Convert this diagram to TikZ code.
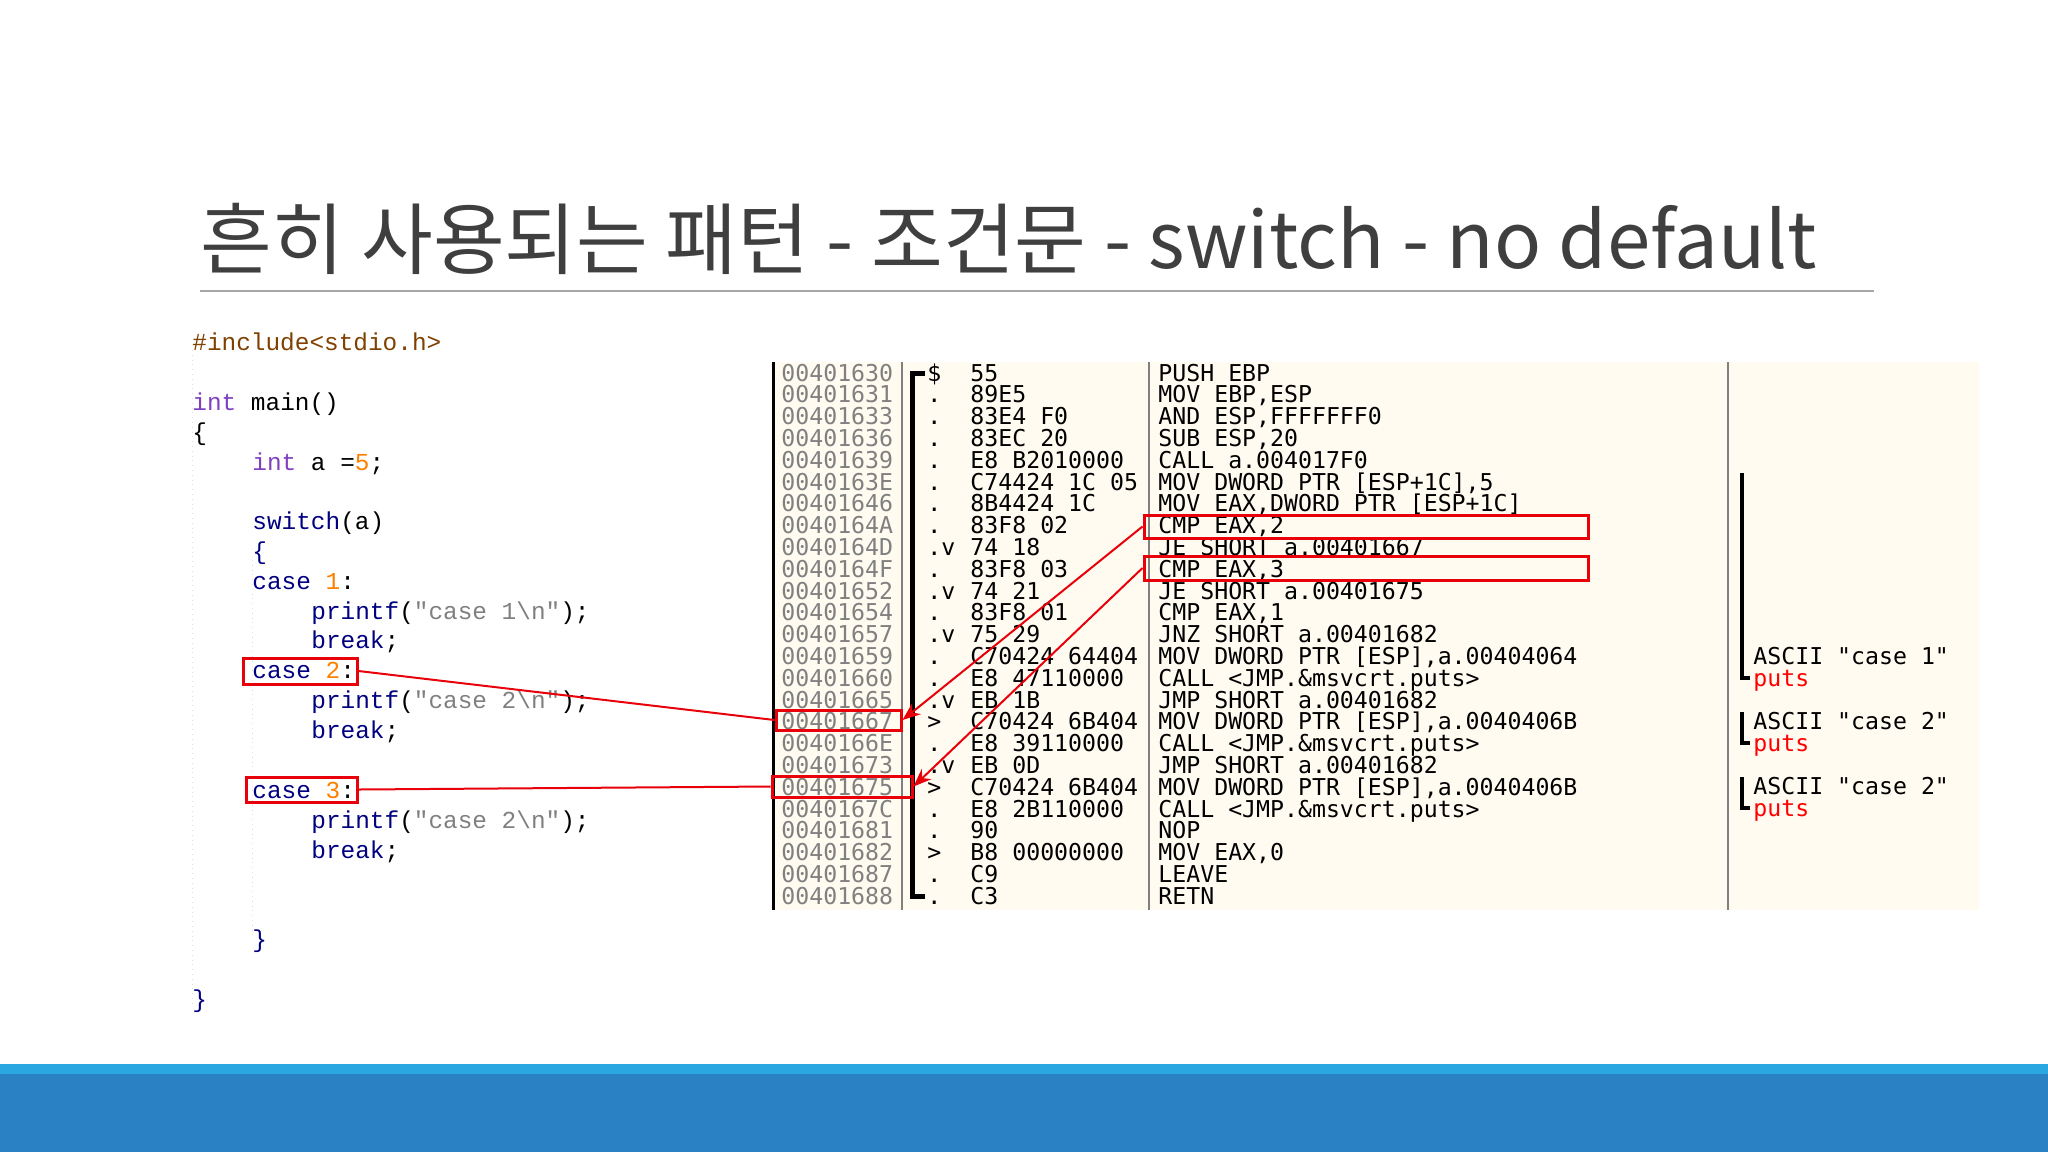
\documentclass[tikz,border=0pt]{standalone}
\usepackage{fontspec}
\newfontfamily\kr{Noto Sans CJK KR}
\newfontfamily\cmono{Liberation Mono}
\newfontfamily\dmono{DejaVu Sans Mono}
\definecolor{titlec}{HTML}{3F3F3F}
\definecolor{kwp}{HTML}{8040C0}
\definecolor{kwb}{HTML}{000080}
\definecolor{numc}{HTML}{FF8000}
\definecolor{strc}{HTML}{808080}
\definecolor{incc}{HTML}{804000}
\definecolor{cream}{HTML}{FFFBF0}
\definecolor{bar1}{HTML}{2AA7E1}
\definecolor{bar2}{HTML}{2A82C5}
\definecolor{boxred}{HTML}{E8000B}
\newcommand{\kwp}[1]{\textcolor{kwp}{#1}}
\newcommand{\kwb}[1]{\textcolor{kwb}{#1}}
\newcommand{\numc}[1]{\textcolor{numc}{#1}}
\newcommand{\strc}[1]{\textcolor{strc}{#1}}
\tikzset{
 codeline/.style={anchor=base west,inner sep=0pt,font=\cmono\fontsize{12.2}{14}\selectfont},
 asmtxt/.style={anchor=base west,inner sep=0pt,font=\dmono\fontsize{11.6}{13}\selectfont},
 redbox/.style={draw=boxred,line width=1.5pt},
 redline/.style={draw=boxred,line width=1pt},
 redarrow/.style={redline,-{Stealth[length=9pt,width=7pt]}},
}
\usetikzlibrary{arrows.meta}
\begin{document}
\begin{tikzpicture}[x=0.5pt,y=-0.5pt]
\useasboundingbox (0,0) rectangle (2048,1152);
\fill[white] (0,0) rectangle (2048,1152);
% title
\node[anchor=base west,inner sep=0pt,text=titlec,font=\kr\fontsize{39}{44}\selectfont] (title) at (200,268) {흔히 사용되는 패턴 - 조건문 - switch - no default};
\draw[gray!70,line width=1pt] (200,291) -- (1874,291);
% bottom bars
\fill[bar1] (0,1064) rectangle (2048,1074);
\fill[bar2] (0,1074) rectangle (2048,1152);
% code
\draw[gray!25,dotted] (192,350) -- (192,1005);
\draw[gray!25,dotted] (252,560) -- (252,935);
\node[codeline] (c1) at (192,350) {\textcolor{incc}{\#include<stdio.h>}};
\node[codeline] (c2) at (192,410) {\kwp{int} main()};
\node[codeline] (c3) at (192,440) {\{};
\node[codeline] (c4) at (252,470) {\kwp{int} a =\numc{5};};
\node[codeline] (c5) at (252,529) {\kwb{switch}(a)};
\node[codeline] (c6) at (252,559) {\kwb{\{}};
\node[codeline] (c7) at (252,589) {\kwb{case} \numc{1}:};
\node[codeline] (c8) at (311,619) {\kwb{printf}(\strc{"case 1\textbackslash n"});};
\node[codeline] (c9) at (311,648) {\kwb{break};};
\node[codeline] (c10) at (252,678) {\kwb{case} \numc{2}:};
\node[codeline] (c11) at (311,708) {\kwb{printf}(\strc{"case 2\textbackslash n"});};
\node[codeline] (c12) at (311,738) {\kwb{break};};
\node[codeline] (c13) at (252,798) {\kwb{case} \numc{3}:};
\node[codeline] (c14) at (311,828) {\kwb{printf}(\strc{"case 2\textbackslash n"});};
\node[codeline] (c15) at (311,858) {\kwb{break};};
\node[codeline] (c16) at (252,947) {\kwb{\}}};
\node[codeline] (c17) at (192,1007) {\kwb{\}}};
% disasm panel
\fill[cream] (771,362) rectangle (1979,910);
\draw[black,line width=1.5pt] (773,362) -- (773,910);
\draw[gray,line width=1pt] (902,362) -- (902,910);
\draw[gray,line width=1pt] (1149,362) -- (1149,910);
\draw[gray,line width=1pt] (1728,362) -- (1728,910);
\foreach \i/\ad/\mk/\hx/\as in {
1/00401630/\$/55/PUSH EBP,
2/00401631/./89E5/{MOV EBP,ESP},
3/00401633/./83E4 F0/{AND ESP,FFFFFFF0},
4/00401636/./83EC 20/{SUB ESP,20},
5/00401639/./E8 B2010000/CALL a.004017F0,
6/0040163E/./C74424 1C 05/{MOV DWORD PTR [ESP+1C],5},
7/00401646/./8B4424 1C/{MOV EAX,DWORD PTR [ESP+1C]},
8/0040164A/./83F8 02/{CMP EAX,2},
9/0040164D/.v/74 18/JE SHORT a.00401667,
10/0040164F/./83F8 03/{CMP EAX,3},
11/00401652/.v/74 21/JE SHORT a.00401675,
12/00401654/./83F8 01/{CMP EAX,1},
13/00401657/.v/75 29/JNZ SHORT a.00401682,
14/00401659/./C70424 64404/{MOV DWORD PTR [ESP],a.00404064},
15/00401660/./E8 47110000/CALL <JMP.\&msvcrt.puts>,
16/00401665/.v/EB 1B/JMP SHORT a.00401682,
17/00401667/>/C70424 6B404/{MOV DWORD PTR [ESP],a.0040406B},
18/0040166E/./E8 39110000/CALL <JMP.\&msvcrt.puts>,
19/00401673/.v/EB 0D/JMP SHORT a.00401682,
20/00401675/>/C70424 6B404/{MOV DWORD PTR [ESP],a.0040406B},
21/0040167C/./E8 2B110000/CALL <JMP.\&msvcrt.puts>,
22/00401681/./90/NOP,
23/00401682/>/B8 00000000/{MOV EAX,0},
24/00401687/./C9/LEAVE,
25/00401688/./C3/RETN}
{
 \pgfmathsetmacro\yy{373+(\i-1)*21.8+8}
 \node[asmtxt,text=gray] (ad\i) at (781,\yy) {\ad};
 \node[asmtxt] (mk\i) at (927,\yy) {\mk};
 \node[asmtxt] (hx\i) at (970,\yy) {\hx};
 \node[asmtxt] (as\i) at (1158,\yy) {\as};
}
% function bracket
\draw[black,line width=2.5pt] (925,373) -- (912,373) -- (912,896) -- (925,896);
% comments
\draw[black,line width=2pt] (1742,473) -- (1742,678) -- (1750,678);
\draw[black,line width=2pt] (1742,712) -- (1742,743) -- (1750,743);
\draw[black,line width=2pt] (1742,777) -- (1742,808) -- (1750,808);
\node[asmtxt] (k1) at (1753,664) {ASCII "case 1"};
\node[asmtxt,text=red] (p1) at (1753,686) {puts};
\node[asmtxt] (k2) at (1753,729) {ASCII "case 2"};
\node[asmtxt,text=red] (p2) at (1753,751) {puts};
\node[asmtxt] (k3) at (1753,794) {ASCII "case 2"};
\node[asmtxt,text=red] (p3) at (1753,816) {puts};
% red boxes
\node[redbox,inner sep=0pt,minimum width=114pt/2,minimum height=26pt/2] (b2) at (300,671) {};
\node[redbox,inner sep=0pt,minimum width=111pt/2,minimum height=25pt/2] (b3) at (301.5,789.5) {};
\node[redbox,inner sep=0pt,minimum width=444pt/2,minimum height=23pt/2] (cmp2) at (1366,526.5) {};
\node[redbox,inner sep=0pt,minimum width=444pt/2,minimum height=24pt/2] (cmp3) at (1366,568) {};
\node[redbox,inner sep=0pt,minimum width=125pt/2,minimum height=20pt/2] (a17) at (838.5,720) {};
\node[redbox,inner sep=0pt,minimum width=140pt/2,minimum height=21pt/2] (a20) at (842,786.5) {};
% connectors
\draw[redline] (b2.east) -- (a17.west);
\draw[redline] (b3.east) -- (a20.west);
\draw[redarrow] (cmp2.west) -- (a17.east);
\draw[redarrow] (cmp3.west) -- (a20.east);
\end{tikzpicture}
\end{document}
